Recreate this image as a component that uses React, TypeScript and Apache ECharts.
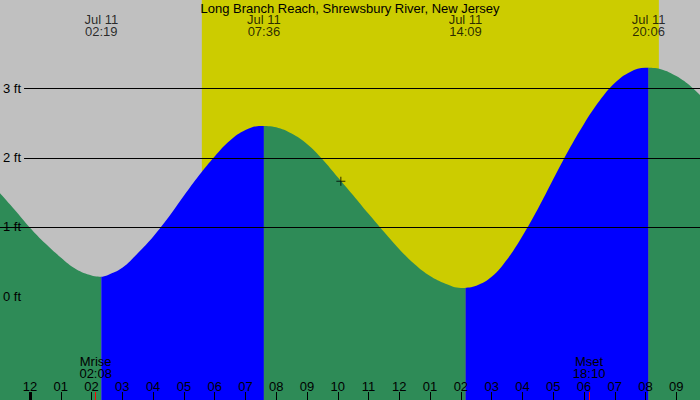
import React, { useEffect, useRef } from "react";
import * as echarts from "echarts";

// ---- data ----
const stationName = "Long Branch Reach, Shrewsbury River, New Jersey";
// window shown, in hours from midnight Jul 11
const viewStart = -0.975;
const viewEnd = 21.77;
const heightMin = -1.5;
const heightMax = 4.28;

const extremeDates = ["Jul 11", "Jul 11", "Jul 11", "Jul 11"];
const extremeTimes = ["02:19", "07:36", "14:09", "20:06"];
const extremeHeights = [0.28, 2.46, 0.12, 3.3];

const readingHours = [
  -1, -0.5, 0, 0.5, 1, 1.5, 2, 2.5, 3, 3.5, 4, 4.5, 5, 5.5, 6, 6.5, 7, 7.5,
  8, 8.5, 9, 9.5, 10, 10.5, 11, 11.5, 12, 12.5, 13, 13.5, 14, 14.5, 15, 15.5,
  16, 16.5, 17, 17.5, 18, 18.5, 19, 19.5, 20, 20.5, 21, 21.5, 22,
];
const readingHeights = [
  1.5, 1.25, 0.99, 0.76, 0.56, 0.39, 0.3, 0.3, 0.41, 0.62, 0.86, 1.14, 1.45,
  1.75, 2.02, 2.25, 2.4, 2.46, 2.44, 2.35, 2.2, 1.98, 1.72, 1.46, 1.19, 0.93,
  0.68, 0.46, 0.29, 0.18, 0.12, 0.15, 0.28, 0.53, 0.87, 1.26, 1.69, 2.11, 2.49,
  2.82, 3.08, 3.24, 3.3, 3.28, 3.18, 3.02, 2.8,
];

const sunTimes = ["05:35", "20:26"];
const moonLabels = ["Mrise", "Mset"];
const moonTimes = ["02:08", "18:10"];
const nowTime = "10:06";
const nowHeight = 1.66;
const hourTicks = [
  -1, 0, 1, 2, 3, 4, 5, 6, 7, 8, 9, 10, 11, 12, 13, 14, 15, 16, 17, 18, 19, 20, 21,
];
const midnightTicks = [0];
const gridFeet = [1, 2, 3];
const footLabels = [0, 1, 2, 3];

// ---- styles ----
const FONT = "Liberation Sans";
const NIGHT = "#c0c0c0";
const DAY = "#cccc00";
const RISING = "#0000ff";
const FALLING = "#2e8b57";

const toHours = (s: string) => {
  const [h, m] = s.split(":").map(Number);
  return h + m / 60;
};

function buildSegments() {
  const pts: [number, number][] = readingHours.map((t, i) => [t, readingHeights[i]]);
  extremeTimes.forEach((s, i) => pts.push([toHours(s), extremeHeights[i]]));
  pts.sort((a, b) => a[0] - b[0]);
  const bounds = [-Infinity, ...extremeTimes.map(toHours), Infinity];
  const segs: { data: [number, number][]; rising: boolean }[] = [];
  for (let k = 0; k < bounds.length - 1; k++) {
    const d = pts.filter((p) => p[0] >= bounds[k] - 1e-9 && p[0] <= bounds[k + 1] + 1e-9);
    if (d.length < 2) continue;
    segs.push({ data: d, rising: d[d.length - 1][1] > d[0][1] });
  }
  return segs;
}

export default function App() {
  const ref = useRef<HTMLDivElement>(null);
  useEffect(() => {
    if (!ref.current) return;
    const chart = echarts.init(ref.current, null, { renderer: "svg" });
    const segs = buildSegments();
    const moonHours = moonTimes.map(toHours);
    const hourFmt = (v: number) => {
      const h = ((Math.round(v) % 12) + 12) % 12 || 12;
      return String(h).padStart(2, "0");
    };
    const baseX = {
      type: "value",
      min: viewStart,
      max: viewEnd,
      position: "bottom",
      z: 10,
      axisLine: { show: false, onZero: false },
      splitLine: { show: false },
    };
    const option: any = {
      animation: false,
      backgroundColor: NIGHT,
      textStyle: { fontFamily: FONT, fontSize: 13 },
      title: {
        text: stationName,
        left: "center",
        top: 1,
        padding: 0,
        textStyle: { fontFamily: FONT, fontSize: 13, fontWeight: "normal", color: "#000", lineHeight: 14 },
      },
      grid: {
        left: 0,
        right: 0,
        top: 0,
        bottom: 0,
        containLabel: false,
        outerBoundsMode: "none",
      },
      xAxis: [
        {
          ...baseX,
          axisTick: {
            show: true,
            inside: true,
            length: 8,
            customValues: hourTicks,
            lineStyle: { color: "#000", width: 1 },
          },
          axisLabel: {
            show: true,
            inside: true,
            margin: 7,
            customValues: hourTicks,
            formatter: hourFmt,
            color: "#000",
            fontFamily: FONT,
            fontSize: 13,
          },
        },
        {
          ...baseX,
          axisTick: {
            show: true,
            inside: true,
            length: 8,
            customValues: midnightTicks,
            lineStyle: { color: "#000", width: 3 },
          },
          axisLabel: { show: false },
        },
        {
          ...baseX,
          axisTick: {
            show: true,
            inside: true,
            length: 8,
            customValues: moonHours,
            lineStyle: { color: "#ff0000", width: 1 },
          },
          axisLabel: {
            show: true,
            inside: true,
            margin: 21,
            customValues: moonHours,
            formatter: (v: number) => {
              const i = moonHours.findIndex((m) => Math.abs(m - v) < 1e-6);
              return i < 0 ? "" : `${moonLabels[i]}\n${moonTimes[i]}`;
            },
            color: "#000",
            fontFamily: FONT,
            fontSize: 13,
            lineHeight: 12,
            align: "center",
          },
        },
      ],
      yAxis: [
        {
          type: "value",
          min: heightMin,
          max: heightMax,
          z: 10,
          axisLine: { show: false, onZero: false },
          axisTick: { show: false },
          splitLine: { show: false },
          axisLabel: {
            show: true,
            inside: true,
            margin: 0,
            customValues: footLabels,
            formatter: (v: number) => (v >= 2 ? `{g|${v} ft}` : `{n|${v} ft}`),
            rich: {
              g: {
                backgroundColor: NIGHT,
                padding: [2, 3, 2, 3],
                color: "#000",
                fontFamily: FONT,
                fontSize: 13,
              },
              n: { padding: [2, 3, 2, 3], color: "#000", fontFamily: FONT, fontSize: 13 },
            },
          },
        },
      ],
      series: [
        {
          type: "line",
          data: [[viewStart, heightMin]],
          symbol: "none",
          lineStyle: { opacity: 0 },
          silent: true,
          z: 1,
          markArea: {
            silent: true,
            itemStyle: { color: DAY, opacity: 1 },
            data: [[{ xAxis: toHours(sunTimes[0]) }, { xAxis: toHours(sunTimes[1]) }]],
          },
        },
        {
          type: "line",
          data: [[viewStart, heightMin]],
          symbol: "none",
          lineStyle: { opacity: 0 },
          silent: true,
          z: 2,
          markLine: {
            silent: true,
            symbol: ["none", "none"],
            label: { show: false },
            lineStyle: { color: "#000", width: 1, type: "solid" },
            data: gridFeet.map((v) => ({ yAxis: v })),
          },
        },
        ...segs.map((s) => ({
          type: "line",
          data: s.data,
          symbol: "none",
          smooth: 0.4,
          silent: true,
          z: 3,
          lineStyle: { width: 0 },
          areaStyle: { color: s.rising ? RISING : FALLING, opacity: 1, origin: "start" },
        })),
        {
          type: "scatter",
          data: [[toHours(nowTime), nowHeight]],
          symbol: "path://M4,0h1v4h4v1h-4v4h-1v-4h-4v-1h4z",
          symbolSize: 9,
          itemStyle: { color: "#000" },
          silent: true,
          z: 6,
        },
        {
          type: "scatter",
          data: extremeTimes.map((s) => [toHours(s), heightMax]),
          symbolSize: 1,
          itemStyle: { color: "rgba(0,0,0,0)" },
          clip: false,
          silent: true,
          z: 6,
          label: {
            show: true,
            position: "bottom",
            distance: 13,
            formatter: (p: any) => `${extremeDates[p.dataIndex]}\n${extremeTimes[p.dataIndex]}`,
            color: "#000",
            fontFamily: FONT,
            fontSize: 13,
            lineHeight: 12,
            align: "center",
          },
        },
      ],
    };
    chart.setOption(option);
    return () => chart.dispose();
  }, []);
  return (
    <div
      ref={ref}
      style={{ position: "fixed", left: 0, top: 0, width: 700, height: 400 }}
    />
  );
}
